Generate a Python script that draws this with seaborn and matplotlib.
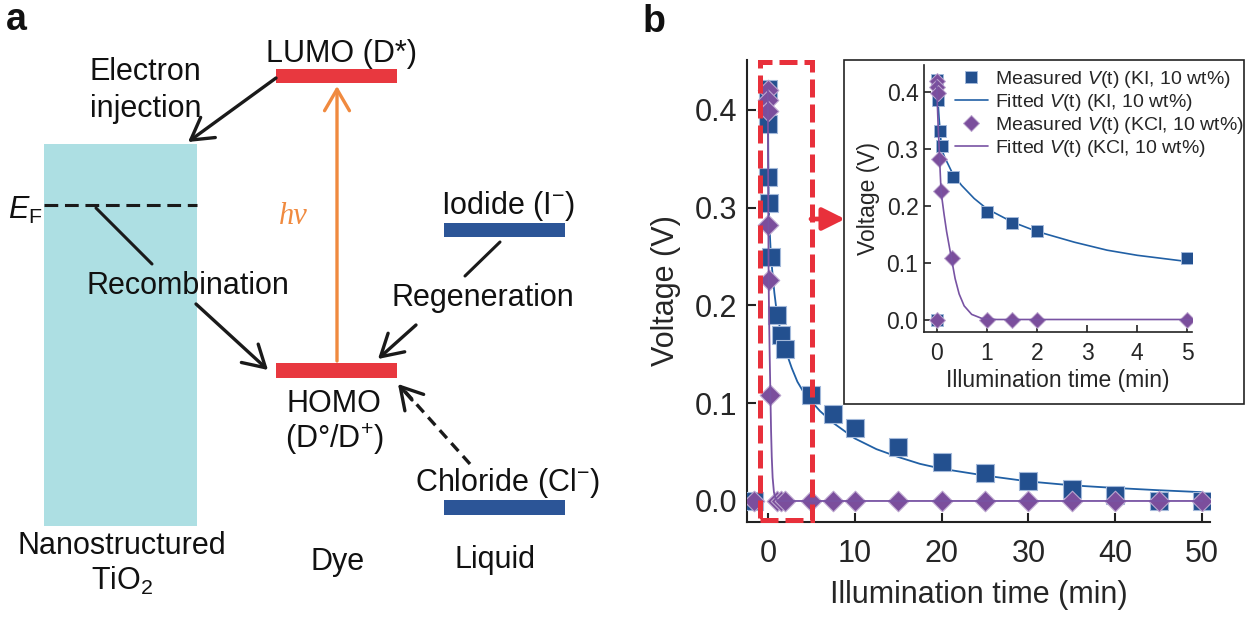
import matplotlib
matplotlib.use("Agg")
import matplotlib.pyplot as plt
import matplotlib.transforms as mtransforms
from matplotlib.patches import Rectangle
from matplotlib.lines import Line2D
import seaborn as sns

# ---- data ----
# KI, 10 wt% : measured points (min, V)
ki_time = [0, 0.017, 0.033, 0.067, 0.1, 0.33, 1, 1.5, 2, 5, 7.5, 10, 15, 20, 25, 30, 35, 40, 45, 50]
ki_volt = [0.0, 0.421, 0.386, 0.331, 0.305, 0.25, 0.19, 0.17, 0.155, 0.108, 0.089, 0.075,
           0.055, 0.040, 0.029, 0.020, 0.012, 0.006, 0.0, 0.0]
# KCl, 10 wt% : measured points
kcl_time = [0, 0.005, 0.017, 0.033, 0.05, 0.087, 0.3, 1, 1.5, 2, 5, 7.5, 10, 15, 20, 25, 30, 35, 40, 45, 50]
kcl_volt = [0.0, 0.42, 0.41, 0.399, 0.282, 0.226, 0.108, 0.0, 0.0, 0.0, 0.0, 0.0, 0.0,
            0.0, 0.0, 0.0, 0.0, 0.0, 0.0, 0.0, 0.0]
# dark (t = 0) point is drawn slightly left of zero in the main panel
dark_time_main = -1.6

# fitted curves
ki_fit_time = [0, 0.02, 0.05, 0.1, 0.16, 0.33, 0.5, 0.75, 1, 1.5, 2, 2.75, 3.4, 4, 5, 6, 7.5,
               10, 12.5, 15, 17.5, 20, 25, 30, 35, 40, 45, 50]
ki_fit_volt = [0.42, 0.395, 0.355, 0.300, 0.286, 0.255, 0.236, 0.213, 0.195, 0.172, 0.155, 0.136,
               0.122, 0.113, 0.102, 0.092, 0.080, 0.064, 0.053, 0.045, 0.038, 0.033, 0.026,
               0.020, 0.016, 0.0133, 0.011, 0.009]
kcl_fit_time = [0, 0.03, 0.06, 0.09, 0.15, 0.2, 0.3, 0.37, 0.45, 0.55, 0.7, 0.9, 1.2, 50]
kcl_fit_volt = [0.42, 0.345, 0.285, 0.225, 0.185, 0.155, 0.106, 0.072, 0.045, 0.024, 0.009,
                0.002, 0.0, 0.0]

legend_labels = ["Measured $V$(t) (KI, 10 wt%)", "Fitted $V$(t) (KI, 10 wt%)",
                 "Measured $V$(t) (KCl, 10 wt%)", "Fitted $V$(t) (KCl, 10 wt%)"]

# colours
ki_color, ki_edge, ki_line = "#23508f", "#a3b9da", "#2160a5"
kcl_color, kcl_edge, kcl_line = "#7b4e9c", "#bca6cf", "#7853a3"
red = "#e8303b"
bar_red, bar_blue, tio2 = "#e8383f", "#2c5597", "#addfe3"
orange = "#f08a3f"

# ---- style ----
sns.set_theme(style="ticks")
plt.rcParams["font.family"] = ["Liberation Sans", "DejaVu Sans"]
plt.rcParams["mathtext.fontset"] = "custom"
plt.rcParams["mathtext.rm"] = "Liberation Sans"
plt.rcParams["mathtext.it"] = "Liberation Sans:italic"
plt.rcParams["mathtext.bf"] = "Liberation Sans:bold"

W, H = 1253, 624
fig = plt.figure(figsize=(W / 100, H / 100), dpi=100)


def box(x0, y0, x1, y1):
    # pixel box (top-left origin) -> figure fraction rect
    return [x0 / W, 1 - y1 / H, (x1 - x0) / W, (y1 - y0) / H]


ax = fig.add_axes(box(747, 60, 1210, 522), zorder=0)
ov = fig.add_axes([0, 0, 1, 1], zorder=1)
ov.set_xlim(0, W)
ov.set_ylim(H, 0)
ov.axis("off")
axin = fig.add_axes(box(924, 65, 1192, 332), zorder=2)
axin.patch.set_alpha(0)

# ---- panel b : main ----
ki_time_main = [dark_time_main] + ki_time[1:]
kcl_time_main = [dark_time_main] + kcl_time[1:]

sns.lineplot(x=ki_fit_time, y=ki_fit_volt, ax=ax, color=ki_line, lw=1.3,
             estimator=None, sort=False, zorder=2)
sns.scatterplot(x=ki_time_main, y=ki_volt, ax=ax, marker="s", s=169, color=ki_color,
                edgecolor=ki_edge, linewidth=0.8, zorder=3)
sns.scatterplot(x=kcl_time_main, y=kcl_volt, ax=ax, marker="D", s=110, color=kcl_color,
                edgecolor=kcl_edge, linewidth=0.8, zorder=4)
sns.lineplot(x=kcl_fit_time, y=kcl_fit_volt, ax=ax, color=kcl_line, lw=1.3,
             estimator=None, sort=False, zorder=5)

ax.set_xlim(-2.4, 50.9)
ax.set_ylim(-0.0215, 0.451)
ax.set_xticks([0, 10, 20, 30, 40, 50])
ax.set_yticks([0, 0.1, 0.2, 0.3, 0.4])
ax.set_yticklabels(["0.0", "0.1", "0.2", "0.3", "0.4"])
ax.set_xlabel("Illumination time (min)", fontsize=22, labelpad=8)
ax.set_ylabel("Voltage (V)", fontsize=22, labelpad=10)
ax.tick_params(direction="in", length=6.5, width=1.5, labelsize=22, pad=7, color="#222")
ax.tick_params(axis="x", pad=12)
for side in ["top", "right"]:
    ax.spines[side].set_visible(False)
for side in ["left", "bottom"]:
    ax.spines[side].set_linewidth(1.5)
    ax.spines[side].set_color("#222")

# red dashed zoom box
trans = mtransforms.blended_transform_factory(ax.transData, ax.transAxes)
ax.add_patch(Rectangle((-0.92, 0.004), 5.99, 0.992, transform=trans, fill=False,
                       edgecolor=red, lw=3.6, ls=(0, (3.6, 1.4)), clip_on=False, zorder=6))
ov.annotate("", xy=(845, 219), xytext=(811, 219),
            arrowprops=dict(arrowstyle="-|>,head_length=0.8,head_width=0.4", color=red,
                            lw=3.4, mutation_scale=17, shrinkA=0, shrinkB=0))

# inset frame
ov.add_patch(Rectangle((844, 60), 400, 344, facecolor="white", edgecolor="#222", lw=1.2))

# ---- panel b : inset ----
sns.lineplot(x=ki_fit_time, y=ki_fit_volt, ax=axin, color=ki_line, lw=1.2,
             estimator=None, sort=False, zorder=2)
sns.scatterplot(x=ki_time, y=ki_volt, ax=axin, marker="s", s=80, color=ki_color,
                edgecolor=ki_edge, linewidth=0.7, zorder=3)
sns.scatterplot(x=kcl_time, y=kcl_volt, ax=axin, marker="D", s=66, color=kcl_color,
                edgecolor=kcl_edge, linewidth=0.7, zorder=4)
sns.lineplot(x=kcl_fit_time, y=kcl_fit_volt, ax=axin, color=kcl_line, lw=1.2,
             estimator=None, sort=False, zorder=5)
axin.set_xlim(-0.25, 5.09)
axin.set_ylim(-0.022, 0.448)
axin.set_xticks([0, 1, 2, 3, 4, 5])
axin.set_yticks([0, 0.1, 0.2, 0.3, 0.4])
axin.set_yticklabels(["0.0", "0.1", "0.2", "0.3", "0.4"])
axin.set_xlabel("Illumination time (min)", fontsize=16.5, labelpad=3)
axin.set_ylabel("Voltage (V)", fontsize=16.5, labelpad=5)
axin.tick_params(direction="in", length=5, width=1.2, labelsize=16.5, pad=4, color="#222")
axin.tick_params(axis="x", pad=7)
for side in ["top", "right"]:
    axin.spines[side].set_visible(False)
for side in ["left", "bottom"]:
    axin.spines[side].set_linewidth(1.2)
    axin.spines[side].set_color("#222")

handles = [
    Line2D([], [], ls="none", marker="s", ms=9, color=ki_color, mec=ki_edge, mew=0.7),
    Line2D([], [], color=ki_line, lw=1.2),
    Line2D([], [], ls="none", marker="D", ms=8, color=kcl_color, mec=kcl_edge, mew=0.7),
    Line2D([], [], color=kcl_line, lw=1.2),
]
axin.legend(handles, legend_labels, loc="upper left", bbox_to_anchor=(0.115, 0.985),
            frameon=False, fontsize=14, handlelength=1.7, handletextpad=0.35,
            labelspacing=0.1, borderpad=0, borderaxespad=0)

# ---- panel a : energy diagram (pixel coordinates) ----
ov.add_patch(Rectangle((44, 144), 153, 382, color=tio2, lw=0))
ov.plot([44, 197], [205, 205], color="k", lw=2.2, ls=(0, (4.5, 2.2)))
ov.plot([96, 152], [208, 264], color="k", lw=2.2)
ov.plot([500, 465], [242, 276], color="k", lw=2.2)

for (x0, y0, w, h, c) in [(276, 69, 121, 14, bar_red), (276, 363, 121, 15, bar_red),
                          (444, 223, 121, 14, bar_blue), (444, 500, 121, 15, bar_blue)]:
    ov.add_patch(Rectangle((x0, y0), w, h, color=c, lw=0))

arrow = dict(arrowstyle="->,head_length=0.55,head_width=0.32", color="k", lw=2.4,
             mutation_scale=28, shrinkA=0, shrinkB=0)
ov.annotate("", xy=(188, 142), xytext=(276, 78), arrowprops=arrow)
ov.annotate("", xy=(268, 370), xytext=(196, 304), arrowprops=arrow)
ov.annotate("", xy=(378, 359), xytext=(416, 325), arrowprops=arrow)
# dashed chloride arrow: dashed shaft + solid head
ov.plot([470, 402], [464, 388], color="k", lw=2.4, ls=(0, (3.2, 2.0)))
ov.annotate("", xy=(398, 384), xytext=(412, 400), arrowprops=arrow)
ov.annotate("", xy=(337, 86), xytext=(337, 361),
            arrowprops=dict(arrowstyle="->,head_length=0.55,head_width=0.32", color=orange,
                            lw=2.4, mutation_scale=28, shrinkA=0, shrinkB=0))

txt = dict(fontsize=22, va="baseline", color="#111")
ov.text(6, 30, "a", fontsize=27, fontweight="bold", va="baseline", color="#111")
ov.text(643, 32, "b", fontsize=27, fontweight="bold", va="baseline", color="#111")
ov.text(341, 62, "LUMO (D*)", ha="center", **txt)
ov.text(90, 80, "Electron", ha="left", **txt)
ov.text(90, 117, "injection", ha="left", **txt)
ov.text(8, 219, r"$E_\mathrm{F}$", ha="left", **txt)
ov.text(293, 224, "hν", ha="center", fontsize=22, va="baseline", color=orange,
        style="italic", family=["Liberation Serif", "DejaVu Serif"])
ov.text(188, 294, "Recombination", ha="center", **txt)
ov.text(508, 214, "Iodide (I$^{-}$)", ha="center", **txt)
ov.text(483, 306, "Regeneration", ha="center", **txt)
ov.text(334, 412, "HOMO", ha="center", **txt)
ov.text(334, 448, "(D°/D$^{+}$)", ha="center", **txt)
ov.text(508, 491, "Chloride (Cl$^{-}$)", ha="center", **txt)
ov.text(122, 554, "Nanostructured", ha="center", **txt)
ov.text(122, 590, "TiO$_2$", ha="center", **txt)
ov.text(338, 570, "Dye", ha="center", **txt)
ov.text(495, 568, "Liquid", ha="center", **txt)

fig.savefig("out.png", dpi=100)
